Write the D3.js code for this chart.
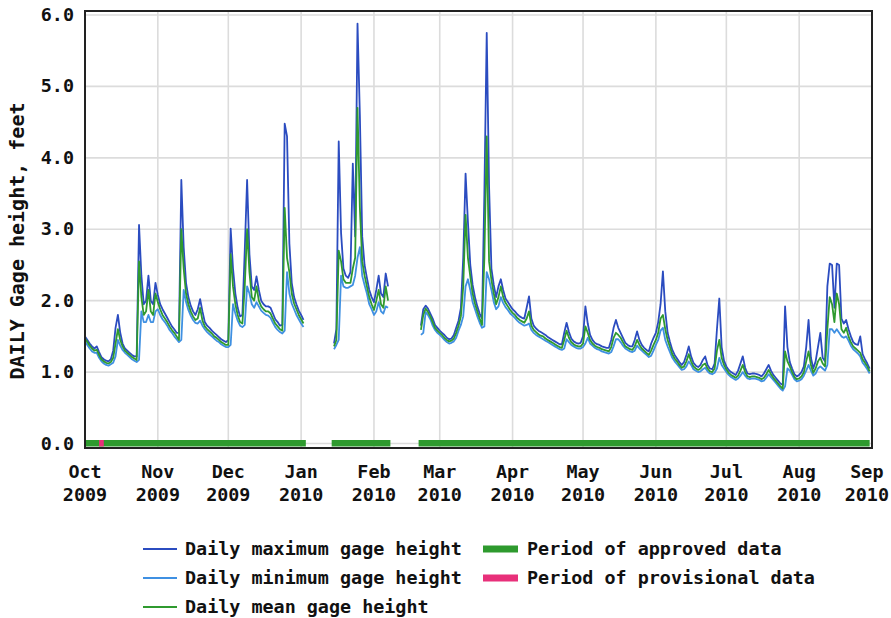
<!DOCTYPE html>
<html><head><meta charset="utf-8">
<script src="https://cdn.jsdelivr.net/npm/d3@7"></script>
<style>
html,body{margin:0;padding:0;background:#fff;}
text{font-family:"DejaVu Sans Mono","Liberation Mono",monospace;font-weight:bold;fill:#111;}
</style></head>
<body><svg id="chart" width="891" height="618"></svg>
<script>
// ---- DATA ----
const startDay = "2009-10-01";           // first day of daily arrays (index 0)
const monthLabels = ["Oct","Nov","Dec","Jan","Feb","Mar","Apr","May","Jun","Jul","Aug","Sep"];
const yearLabels  = ["2009","2009","2009","2010","2010","2010","2010","2010","2010","2010","2010","2010"];
const yTicks = [0,1,2,3,4,5,6];
const yTickLabels = ["0.0","1.0","2.0","3.0","4.0","5.0","6.0"];

const meanHeight = [
1.47,1.42,1.37,1.33,1.30,1.31,1.24,1.18,1.15,1.13,
1.12,1.14,1.20,1.40,1.60,1.45,1.36,1.30,1.27,1.24,
1.21,1.19,1.17,2.55,2.05,1.80,1.85,2.15,1.85,1.80,
2.10,1.98,1.88,1.80,1.75,1.70,1.64,1.59,1.55,1.50,
1.45,3.00,2.45,2.10,1.95,1.85,1.78,1.73,1.75,1.90,
1.72,1.64,1.60,1.57,1.54,1.50,1.48,1.45,1.42,1.40,
1.38,1.38,2.65,2.20,1.95,1.80,1.70,1.68,2.20,3.00,
2.40,2.05,2.00,2.20,2.00,1.92,1.88,1.85,1.85,1.82,
1.75,1.68,1.64,1.60,1.58,3.30,2.60,2.40,2.10,1.96,
1.88,1.80,1.74,1.68,
null,null,null,null,null,null,null,null,null,null,null,null,
1.36,1.45,2.70,2.55,2.30,2.25,2.25,2.25,2.45,2.60,
4.70,3.30,2.55,2.35,2.20,2.05,1.95,1.87,2.00,2.15,
1.95,1.90,2.20,2.00,
null,null,null,null,null,null,null,null,null,null,null,null,null,
1.59,1.80,1.89,1.84,1.78,1.70,1.62,1.58,1.55,1.52,
1.48,1.45,1.43,1.44,1.47,1.55,1.65,1.78,2.20,3.20,
2.60,2.34,2.10,1.96,1.85,1.75,1.66,2.60,4.30,2.55,
2.29,2.10,1.95,2.05,2.20,2.05,1.97,1.92,1.87,1.83,
1.80,1.76,1.73,1.71,1.69,1.75,1.85,1.65,1.59,1.56,
1.53,1.51,1.50,1.47,1.45,1.43,1.41,1.39,1.37,1.35,
1.34,1.45,1.58,1.48,1.42,1.39,1.37,1.36,1.36,1.40,
1.64,1.55,1.45,1.40,1.37,1.35,1.34,1.32,1.31,1.30,
1.29,1.35,1.48,1.55,1.52,1.48,1.42,1.36,1.34,1.32,
1.31,1.36,1.45,1.38,1.33,1.30,1.27,1.24,1.30,1.38,
1.45,1.55,1.75,1.80,1.60,1.45,1.35,1.25,1.19,1.15,
1.10,1.06,1.08,1.15,1.25,1.15,1.08,1.05,1.03,1.05,
1.10,1.12,1.05,1.01,1.00,1.05,1.30,1.45,1.20,1.10,
1.04,0.99,0.96,0.94,0.92,0.95,1.02,1.10,1.00,0.94,
0.93,0.94,0.94,0.93,0.92,0.90,0.92,0.97,1.03,0.97,
0.92,0.88,0.84,0.80,0.77,1.29,1.15,1.08,1.00,0.93,
0.90,0.91,0.94,1.00,1.15,1.29,1.10,0.99,1.05,1.15,
1.20,1.12,1.08,1.60,2.05,1.95,1.70,2.10,1.95,1.60,
1.55,1.62,1.50,1.42,1.36,1.33,1.30,1.27,1.18,1.13,
1.08,1.01
];

const maxHeight = [
1.50,1.45,1.40,1.36,1.33,1.36,1.28,1.21,1.18,1.16,
1.15,1.18,1.30,1.62,1.80,1.55,1.40,1.33,1.30,1.27,
1.24,1.22,1.22,3.06,2.35,1.95,2.00,2.35,2.00,1.95,
2.25,2.08,1.95,1.88,1.82,1.76,1.70,1.64,1.60,1.55,
1.55,3.69,2.75,2.25,2.05,1.93,1.85,1.80,1.88,2.02,
1.85,1.70,1.65,1.62,1.58,1.55,1.52,1.49,1.46,1.44,
1.42,1.45,3.01,2.45,2.10,1.90,1.78,1.80,2.70,3.69,
2.65,2.20,2.15,2.34,2.15,2.00,1.95,1.92,1.92,1.90,
1.82,1.74,1.70,1.65,1.66,4.48,4.30,2.80,2.25,2.05,
1.95,1.86,1.80,1.73,
null,null,null,null,null,null,null,null,null,null,null,null,
1.40,1.60,4.23,2.95,2.45,2.35,2.32,2.40,3.92,2.90,
5.88,4.60,2.90,2.50,2.32,2.15,2.05,1.98,2.15,2.35,
2.10,2.05,2.38,2.20,
null,null,null,null,null,null,null,null,null,null,null,null,null,
1.65,1.88,1.93,1.89,1.82,1.75,1.66,1.62,1.58,1.55,
1.52,1.48,1.46,1.47,1.52,1.62,1.72,1.90,2.60,3.78,
3.10,2.50,2.22,2.05,1.92,1.82,1.75,3.50,5.75,3.60,
2.45,2.22,2.05,2.20,2.30,2.15,2.03,1.98,1.93,1.88,
1.85,1.81,1.78,1.76,1.75,1.90,2.06,1.75,1.65,1.61,
1.58,1.56,1.54,1.52,1.49,1.47,1.45,1.43,1.41,1.39,
1.39,1.55,1.69,1.56,1.47,1.43,1.41,1.40,1.41,1.50,
1.92,1.68,1.52,1.45,1.41,1.39,1.38,1.36,1.35,1.34,
1.34,1.45,1.62,1.73,1.62,1.55,1.48,1.41,1.38,1.36,
1.36,1.45,1.57,1.45,1.38,1.34,1.31,1.29,1.40,1.48,
1.55,1.70,1.95,2.41,1.85,1.55,1.42,1.31,1.24,1.19,
1.14,1.10,1.14,1.24,1.36,1.22,1.13,1.09,1.07,1.10,
1.17,1.22,1.10,1.05,1.04,1.12,1.60,2.03,1.35,1.16,
1.08,1.03,1.00,0.98,0.96,1.02,1.12,1.22,1.06,0.98,
0.97,0.98,0.98,0.97,0.96,0.94,0.98,1.04,1.10,1.02,
0.96,0.92,0.88,0.84,0.82,1.92,1.35,1.14,1.05,0.97,
0.94,0.96,1.00,1.08,1.35,1.73,1.20,1.05,1.15,1.35,
1.55,1.20,1.15,2.20,2.52,2.50,1.90,2.52,2.50,1.75,
1.68,1.73,1.60,1.50,1.42,1.39,1.38,1.50,1.25,1.18,
1.12,1.05
];

const minHeight = [
1.43,1.38,1.33,1.29,1.27,1.27,1.20,1.15,1.12,1.10,
1.09,1.11,1.13,1.22,1.45,1.37,1.31,1.27,1.24,1.21,
1.18,1.16,1.14,1.17,1.85,1.70,1.70,1.80,1.70,1.70,
1.85,1.88,1.80,1.74,1.70,1.65,1.59,1.55,1.50,1.46,
1.42,1.45,2.15,1.98,1.87,1.79,1.73,1.69,1.68,1.72,
1.65,1.60,1.56,1.53,1.50,1.47,1.44,1.42,1.39,1.37,
1.35,1.35,1.38,1.95,1.82,1.72,1.65,1.63,1.66,2.20,
2.10,1.95,1.90,1.98,1.92,1.86,1.83,1.80,1.79,1.76,
1.69,1.63,1.59,1.56,1.54,1.58,2.40,2.10,1.96,1.88,
1.80,1.74,1.68,1.63,
null,null,null,null,null,null,null,null,null,null,null,null,
1.32,1.38,1.45,2.35,2.20,2.18,2.18,2.20,2.22,2.35,
2.60,2.75,2.35,2.22,2.10,1.95,1.88,1.80,1.85,1.98,
1.85,1.82,1.92,1.90,
null,null,null,null,null,null,null,null,null,null,null,null,null,
1.52,1.55,1.84,1.80,1.74,1.65,1.59,1.55,1.52,1.49,
1.45,1.42,1.40,1.41,1.43,1.48,1.58,1.66,1.78,2.20,
2.30,2.15,1.98,1.88,1.78,1.69,1.62,1.64,2.40,2.30,
2.15,1.98,1.88,1.92,2.05,1.97,1.91,1.87,1.82,1.79,
1.76,1.72,1.69,1.67,1.65,1.66,1.68,1.59,1.55,1.52,
1.50,1.48,1.46,1.44,1.42,1.40,1.38,1.36,1.34,1.32,
1.31,1.33,1.46,1.42,1.38,1.36,1.34,1.33,1.33,1.35,
1.40,1.48,1.40,1.37,1.34,1.32,1.31,1.29,1.28,1.27,
1.26,1.28,1.36,1.46,1.46,1.42,1.37,1.33,1.31,1.29,
1.28,1.30,1.37,1.33,1.30,1.27,1.24,1.21,1.23,1.30,
1.38,1.45,1.58,1.62,1.45,1.36,1.28,1.20,1.15,1.11,
1.07,1.03,1.04,1.08,1.15,1.10,1.04,1.02,1.00,1.01,
1.04,1.06,1.01,0.98,0.97,0.99,1.05,1.20,1.10,1.05,
1.00,0.96,0.93,0.91,0.89,0.91,0.95,1.00,0.95,0.91,
0.90,0.91,0.91,0.90,0.89,0.87,0.88,0.92,0.97,0.93,
0.89,0.85,0.81,0.77,0.74,0.80,1.05,1.02,0.96,0.90,
0.87,0.88,0.90,0.95,1.02,1.10,1.02,0.95,0.98,1.05,
1.08,1.05,1.02,1.10,1.60,1.60,1.55,1.60,1.55,1.50,
1.48,1.50,1.44,1.37,1.32,1.29,1.26,1.22,1.13,1.09,
1.04,0.98
];

// Periods (start, end)
const approvedStart = ["2009-10-01","2010-01-14","2010-02-20"];
const approvedEnd   = ["2010-01-03","2010-02-08","2010-08-31"];
const provisionalStart = ["2009-10-07"];
const provisionalEnd   = ["2009-10-09"];

const legendLabels = ["Daily maximum gage height","Daily minimum gage height","Daily mean gage height"];
const periodLabels = ["Period of approved data","Period of provisional data"];
const seriesColors = ["#2b4cc0","#3f90e2","#2f9a2f"];
const periodColors = ["#2e9a2e","#e8307a"];

// ---- CHART ----
const W = 891;
const FS = 18.4;
const svg = d3.select("#chart");
const parse = d3.utcParse("%Y-%m-%d");
const t0 = parse(startDay);
const dayDate = i => d3.utcDay.offset(t0, i);

const x = d3.scaleUtc().domain([parse("2009-10-01"), parse("2010-09-01")]).range([85, 872]);
const y = d3.scaleLinear().domain([0, 6]).range([443.5, 15]);

const frame = {l:85, r:872, t:11, b:448};

// grid
const months = d3.utcMonth.range(parse("2009-10-01"), parse("2010-09-02"));
svg.append("g").selectAll("line").data(months).join("line")
  .attr("x1", d => x(d)).attr("x2", d => x(d))
  .attr("y1", frame.t).attr("y2", frame.b)
  .attr("stroke", "#dcdcdc").attr("stroke-width", 1.6);
svg.append("g").selectAll("line").data(yTicks).join("line")
  .attr("x1", frame.l).attr("x2", frame.r)
  .attr("y1", d => y(d)).attr("y2", d => y(d))
  .attr("stroke", "#dcdcdc").attr("stroke-width", 1.6);

// period bars
const barG = svg.append("g");
approvedStart.forEach((s, i) => {
  const a = x(parse(s)), b = x(parse(approvedEnd[i]));
  barG.append("rect").attr("x", a).attr("y", y(0) - 3.5).attr("width", b - a).attr("height", 6.5)
    .attr("fill", periodColors[0]);
});
provisionalStart.forEach((s, i) => {
  const a = x(parse(s)), b = x(parse(provisionalEnd[i]));
  barG.append("rect").attr("x", a).attr("y", y(0) - 3.5).attr("width", b - a).attr("height", 6.5)
    .attr("fill", periodColors[1]);
});

// lines
const mkLine = arr => d3.line()
  .defined((d) => d !== null)
  .x((d, i) => x(dayDate(i)))
  .y(d => y(d))(arr);
const lg = svg.append("g").attr("fill", "none").attr("stroke-linejoin", "round");
lg.append("path").attr("d", mkLine(maxHeight)).attr("stroke", seriesColors[0]).attr("stroke-width", 1.8);
lg.append("path").attr("d", mkLine(minHeight)).attr("stroke", seriesColors[1]).attr("stroke-width", 1.8);
lg.append("path").attr("d", mkLine(meanHeight)).attr("stroke", seriesColors[2]).attr("stroke-width", 1.8);

// frame
svg.append("rect").attr("x", frame.l).attr("y", frame.t)
  .attr("width", frame.r - frame.l).attr("height", frame.b - frame.t)
  .attr("fill", "none").attr("stroke", "#222").attr("stroke-width", 2);

// y tick labels
svg.append("g").selectAll("text").data(yTicks).join("text")
  .attr("x", 74).attr("y", d => y(d) + 6)
  .attr("text-anchor", "end").attr("font-size", FS)
  .text((d, i) => yTickLabels[i]);

// x tick labels
const xl = svg.append("g");
const halfW = 2 * FS * 0.602 + 1;
months.forEach((m, i) => {
  const cx = Math.min(x(m), W - 1 - halfW);
  xl.append("text").attr("x", cx).attr("y", 478).attr("text-anchor", "middle")
    .attr("font-size", FS).text(monthLabels[i]);
  xl.append("text").attr("x", cx).attr("y", 501).attr("text-anchor", "middle")
    .attr("font-size", FS).text(yearLabels[i]);
});

// y title
svg.append("text").attr("transform", "translate(24,241) rotate(-90)")
  .attr("text-anchor", "middle").attr("font-size", 20)
  .text("DAILY Gage height, feet");

// legend
const leg = svg.append("g");
legendLabels.forEach((lab, i) => {
  const cy = 549 + i * 29;
  leg.append("line").attr("x1", 143).attr("x2", 177).attr("y1", cy).attr("y2", cy)
    .attr("stroke", seriesColors[i]).attr("stroke-width", 1.8);
  leg.append("text").attr("x", 185).attr("y", cy + 6).attr("font-size", FS).text(lab);
});
periodLabels.forEach((lab, i) => {
  const cy = 549 + i * 29;
  leg.append("line").attr("x1", 483).attr("x2", 518).attr("y1", cy).attr("y2", cy)
    .attr("stroke", periodColors[i]).attr("stroke-width", 7);
  leg.append("text").attr("x", 527).attr("y", cy + 6).attr("font-size", FS).text(lab);
});
</script></body></html>
